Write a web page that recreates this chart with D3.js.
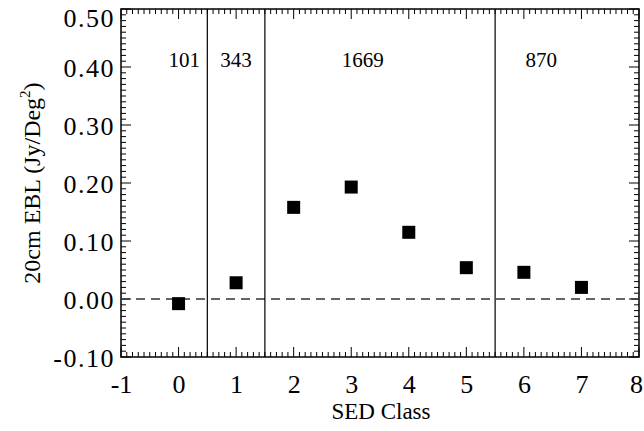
<!DOCTYPE html>
<html><head><meta charset="utf-8">
<script src="https://cdn.jsdelivr.net/npm/d3@7"></script>
<style>body{margin:0;background:#fff}svg{display:block}</style>
</head><body><svg id="c" width="644" height="431" font-family="Liberation Serif"></svg>
<script>
const sedClass = [0, 1, 2, 3, 4, 5, 6, 7];
const eblValue = [-0.008, 0.028, 0.158, 0.193, 0.115, 0.054, 0.046, 0.020];
const dividers = [0.5, 1.5, 5.5];
const groupCounts = ["101", "343", "1669", "870"];
const groupLabelX = [0.1, 1.0, 3.2, 6.3];
const xTicks = [-1, 0, 1, 2, 3, 4, 5, 6, 7, 8];
const yTicks = [-0.10, 0.00, 0.10, 0.20, 0.30, 0.40, 0.50];

const FONT = "Liberation Serif";
const svg = d3.select("#c");
const L = 121, R = 639, T = 9, B = 357;
const x = d3.scaleLinear().domain([-1, 8]).range([L, R]);
const y = d3.scaleLinear().domain([-0.10, 0.50]).range([B, T]);

// frame
svg.append("rect").attr("x", L).attr("y", T).attr("width", R - L).attr("height", B - T)
  .attr("fill", "none").attr("stroke", "#000").attr("stroke-width", 1.5);

// ticks (major + minor, all four sides, pointing inward)
const xMinor = d3.range(-1, 8.0001, 0.1);
const yMinor = d3.range(-0.10, 0.50001, 0.01);
const g = svg.append("g").attr("stroke", "#000").attr("stroke-width", 1);
xMinor.forEach(v => {
  const major = Math.abs(v - Math.round(v)) < 1e-6;
  const len = major ? 10 : 5;
  g.append("line").attr("x1", x(v)).attr("x2", x(v)).attr("y1", B).attr("y2", B - len);
  g.append("line").attr("x1", x(v)).attr("x2", x(v)).attr("y1", T).attr("y2", T + len);
});
yMinor.forEach(v => {
  const major = Math.abs(v * 10 - Math.round(v * 10)) < 1e-6;
  const len = major ? 10 : 5;
  g.append("line").attr("y1", y(v)).attr("y2", y(v)).attr("x1", L).attr("x2", L + len);
  g.append("line").attr("y1", y(v)).attr("y2", y(v)).attr("x1", R).attr("x2", R - len);
});

// tick labels via axes (tick lines hidden)
const hy = s => s.replace("\u2212", "-");
const xAxis = svg.append("g").attr("transform", `translate(0,${B})`)
  .call(d3.axisBottom(x).tickValues(xTicks).tickFormat(d => hy(d3.format("d")(d))).tickSize(0).tickPadding(18));
const yAxis = svg.append("g").attr("transform", `translate(${L},0)`)
  .call(d3.axisLeft(y).tickValues(yTicks).tickFormat(d => hy(d3.format(".2f")(d))).tickSize(0).tickPadding(6));
[xAxis, yAxis].forEach(a => {
  a.attr("font-family", FONT).attr("font-size", 26);
  a.select(".domain").remove();
  a.selectAll("text").attr("font-family", FONT).attr("font-size", 26).attr("fill", "#000");
});
yAxis.selectAll("text").attr("letter-spacing", "1.5px").attr("dy", "0.35em");
yAxis.selectAll(".tick").filter(d => d === 0.5).select("text").attr("y", 8);
xAxis.selectAll(".tick").filter(d => d === 8).select("text").attr("dx", -3);

// zero dashed line
svg.append("line").attr("x1", L).attr("x2", R).attr("y1", y(0)).attr("y2", y(0))
  .attr("stroke", "#333").attr("stroke-width", 1.5).attr("stroke-dasharray", "9,6");

// dividers
dividers.forEach(d => {
  svg.append("line").attr("x1", x(d)).attr("x2", x(d)).attr("y1", T).attr("y2", B)
    .attr("stroke", "#000").attr("stroke-width", 1.2);
});

// group labels
groupCounts.forEach((t, i) => {
  svg.append("text").attr("x", x(groupLabelX[i])).attr("y", 67).attr("text-anchor", "middle")
    .attr("font-family", FONT).attr("font-size", 21).text(t);
});

// points
const s = 13;
svg.append("g").selectAll("rect").data(sedClass).join("rect")
  .attr("x", (d) => x(d) - s / 2).attr("y", (d, i) => y(eblValue[i]) - s / 2)
  .attr("width", s).attr("height", s).attr("fill", "#000");

// axis titles
svg.append("text").attr("x", (L + R) / 2 + 1).attr("y", 419).attr("text-anchor", "middle")
  .attr("font-family", FONT).attr("font-size", 23).text("SED Class");
const yt = svg.append("text").attr("transform", `translate(40,${(T + B) / 2}) rotate(-90)`)
  .attr("text-anchor", "middle").attr("font-family", FONT).attr("font-size", 24);
yt.append("tspan").text("20cm EBL (Jy/Deg");
yt.append("tspan").attr("dy", -10).attr("font-size", 15).text("2");
yt.append("tspan").attr("dy", 10).text(")");
</script></body></html>
